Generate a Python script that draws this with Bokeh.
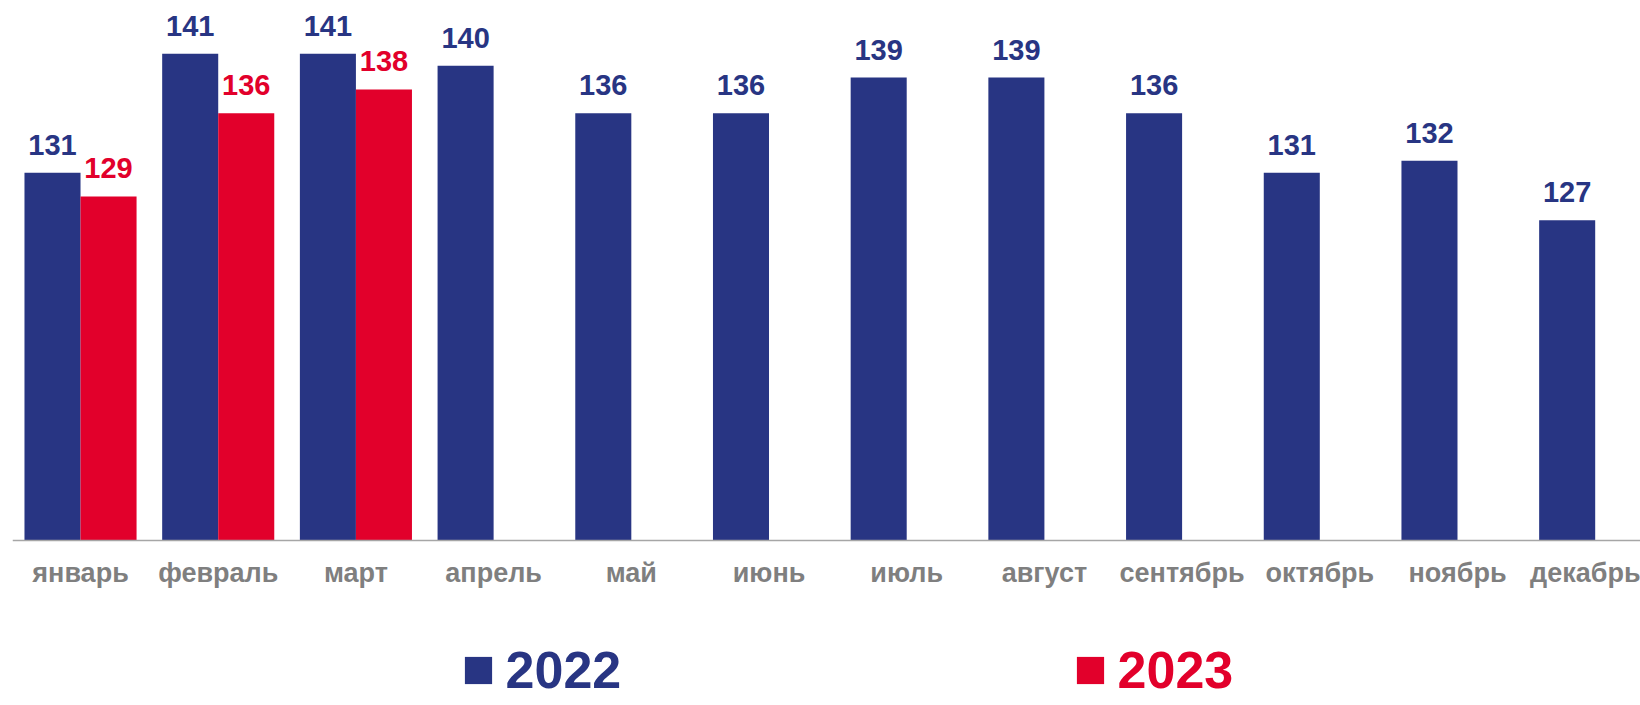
from bokeh.plotting import figure
from bokeh.models import Range1d, FixedTicker, Legend, LegendItem, ColumnDataSource
from bokeh.core.properties import value
from bokeh.embed import file_html
from bokeh.resources import INLINE
from bokeh.transform import dodge

months = ["январь", "февраль", "март", "апрель", "май", "июнь",
          "июль", "август", "сентябрь", "октябрь", "ноябрь", "декабрь"]
values_2022 = [131, 141, 141, 140, 136, 136, 139, 139, 136, 131, 132, 127]
values_2023 = [129, 136, 138]
series_names = ["2022", "2023"]
baseline = 100

BLUE = "#283583"
RED = "#E2002B"
GRAY = "#7F7F7F"
FONT = "Liberation Sans"
BAR_W = 0.407
OFF = 0.2035

p = figure(width=1640, height=705, output_backend="svg", toolbar_location=None,
           x_range=Range1d(-0.494, 11.329), y_range=Range1d(86.15, 145.49),
           y_axis_location=None,
           min_border_left=12, min_border_right=0, min_border_top=0, min_border_bottom=0)
p.outline_line_color = None
p.grid.visible = False
p.background_fill_color = "white"

src22 = ColumnDataSource(dict(x=list(range(len(values_2022))), y=values_2022,
                              label=[str(v) for v in values_2022]))
src23 = ColumnDataSource(dict(x=list(range(len(values_2023))), y=values_2023,
                              label=[str(v) for v in values_2023]))

r22 = p.vbar(x=dodge("x", -OFF), top="y", bottom=baseline, width=BAR_W, source=src22,
             fill_color=BLUE, line_color=None)
r23 = p.vbar(x=dodge("x", OFF), top="y", bottom=baseline, width=BAR_W, source=src23,
             fill_color=RED, line_color=None)

for src, col, off in ((src22, BLUE, -OFF), (src23, RED, OFF)):
    p.text(x=dodge("x", off), y="y", text="label", source=src,
           text_align="center", text_baseline="alphabetic", y_offset=-28,
           text_font=value(FONT), text_font_style="bold", text_font_size="29px",
           text_color=col)

ax = p.xaxis[0]
ax.fixed_location = baseline
ax.ticker = FixedTicker(ticks=list(range(len(months))))
ax.major_label_overrides = {i: m for i, m in enumerate(months)}
ax.major_tick_line_color = None
ax.minor_tick_line_color = None
ax.axis_line_color = "#A6A6A6"
ax.axis_line_width = 1.5
ax.major_label_text_font = FONT
ax.major_label_text_font_style = "bold"
ax.major_label_text_font_size = "27px"
ax.major_label_text_color = GRAY
ax.major_label_standoff = 11

def make_legend(name, rend, color, loc):
    return Legend(items=[LegendItem(label=name, renderers=[rend])], location=loc,
                  orientation="horizontal", label_text_font=FONT,
                  label_text_font_size="52px", label_text_font_style="bold",
                  label_text_color=color, glyph_width=34, glyph_height=34,
                  label_standoff=11, padding=0, margin=0, spacing=0,
                  border_line_color=None, background_fill_alpha=0)

p.add_layout(make_legend(series_names[0], r22, BLUE, (448.6, 5)))
p.add_layout(make_legend(series_names[1], r23, RED, (1060.6, 5)))

open("out.html", "w").write(file_html(p, INLINE))
